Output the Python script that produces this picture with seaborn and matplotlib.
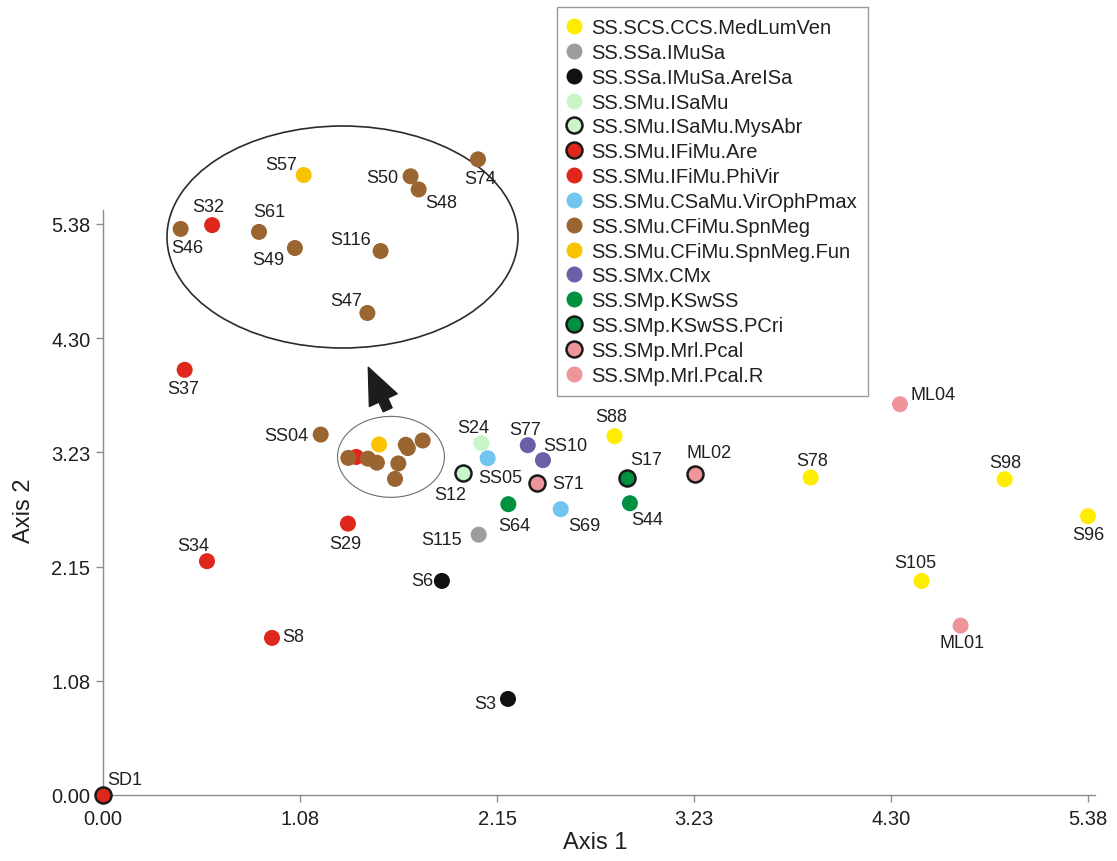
import numpy as np
import pandas as pd
import matplotlib
matplotlib.use("Agg")
import matplotlib.pyplot as plt
from matplotlib.lines import Line2D
from matplotlib.patches import Ellipse, FancyArrowPatch
import seaborn as sns

# ---------------- data ----------------
groups = [
    "SS.SCS.CCS.MedLumVen", "SS.SSa.IMuSa", "SS.SSa.IMuSa.AreISa",
    "SS.SMu.ISaMu", "SS.SMu.ISaMu.MysAbr", "SS.SMu.IFiMu.Are",
    "SS.SMu.IFiMu.PhiVir", "SS.SMu.CSaMu.VirOphPmax", "SS.SMu.CFiMu.SpnMeg",
    "SS.SMu.CFiMu.SpnMeg.Fun", "SS.SMx.CMx", "SS.SMp.KSwSS",
    "SS.SMp.KSwSS.PCri", "SS.SMp.Mrl.Pcal", "SS.SMp.Mrl.Pcal.R",
]
group_colors = [
    "#FFED00", "#9D9D9C", "#111111", "#C9F5C9", "#C9F5C9", "#E0271C",
    "#E0271C", "#71C5EE", "#9B6531", "#F9C300", "#6C5FA7", "#009140",
    "#009140", "#EE959C", "#EE959C",
]
group_outlined = [False, False, False, False, True, True, False, False,
                  False, False, False, False, True, True, False]

samples = ["S88", "S78", "S98", "S96", "S105",
           "S115",
           "S6", "S3",
           "S24",
           "S12",
           "SD1",
           "S8", "S34", "S37", "S29", "S32",
           "SS05", "S69",
           "SS04", "S46", "S61", "S49", "S116", "S47", "S50", "S48", "S74",
           "S57",
           "S77", "SS10",
           "S64", "S44",
           "S17",
           "S71", "ML02",
           "ML04", "ML01"]
axis1 = [2.794, 3.865, 4.925, 5.380, 4.471,
         2.052,
         1.851, 2.212,
         2.066,
         1.965,
         0.000,
         0.923, 0.568, 0.446, 1.338, 1.383,
         2.101, 2.500,
         1.189, 1.340, 1.447, 1.496, 1.613, 1.595, 1.654, 1.665, 1.746,
         1.508,
         2.320, 2.403,
         2.214, 2.878,
         2.863,
         2.372, 3.233,
         4.353, 4.684]
axis2 = [3.381, 2.991, 2.975, 2.627, 2.017,
         2.453,
         2.017, 0.905,
         3.315,
         3.032,
         0.000,
         1.480, 2.203, 4.006, 2.557, 3.185,
         3.173, 2.693,
         3.396, 3.176, 3.169, 3.131, 3.124, 2.978, 3.300, 3.269, 3.340,
         3.303,
         3.296, 3.155,
         2.740, 2.749,
         2.988,
         2.938, 3.028,
         3.682, 1.596]
sample_group = ([0] * 5 + [1] + [2] * 2 + [3] + [4] + [5] + [6] * 5 + [7] * 2
                + [8] * 9 + [9] + [10] * 2 + [11] * 2 + [12] + [13] * 2 + [14] * 2)

# samples inside the magnified cluster
cluster = ["S46", "S32", "S61", "S49", "S57", "S116", "S47", "S50", "S48", "S74"]

# label offsets in pixels (right, up)
main_label_offsets = {
    "SD1": (22, 15), "S8": (21, 1), "S34": (-14, 16), "S37": (-2, -19),
    "S29": (-3, -20), "SS04": (-34, -1), "S6": (-20, 0), "S3": (-23, -5),
    "S115": (-37, -5), "S12": (-13, -21), "S24": (-8, 16), "SS05": (13, -19),
    "S64": (6, -21), "S77": (-3, 16), "SS10": (22, 15), "S71": (31, 0),
    "S69": (24, -16), "S88": (-3, 20), "S17": (19, 18), "S44": (17, -16),
    "ML02": (14, 21), "S78": (2, 17), "ML04": (33, 10), "S98": (1, 17),
    "S96": (0, -18), "S105": (-6, 18), "ML01": (1, -17),
}
inset_label_offsets = {
    "S46": (7, -19), "S32": (-4, 19), "S61": (10, 20), "S49": (-27, -11),
    "S57": (-23, 11), "S116": (-30, 12), "S47": (-21, 12), "S50": (-28, -1),
    "S48": (23, -13), "S74": (2, -19),
}

axis_max = 5.38

df = pd.DataFrame({
    "sample": samples,
    "Axis 1": axis1,
    "Axis 2": axis2,
    "group": [groups[i] for i in sample_group],
})

# ---------------- figure ----------------
W, H = 1117, 862
sns.set_style("ticks")
plt.rcParams["font.family"] = ["Liberation Sans", "DejaVu Sans"]
fig = plt.figure(figsize=(W / 100, H / 100), dpi=100)

# main axes: data (0,0) at px (103,796), (5.38,5.38) at px (1088,225)
L, R, B, T = 103, 1088, 796, 225
ax = fig.add_axes([L / W, 1 - B / H, (R - L) / W, (B - T) / H])
sx = (R - L) / axis_max
sy = (B - T) / axis_max

MS = 133          # marker area (pt^2)
EDGE_W = 1.8
TXT = "#231F20"
LABEL_FS = 13


def draw_points(target, data):
    for gi, g in enumerate(groups):
        sub = data[data["group"] == g]
        if sub.empty:
            continue
        outlined = group_outlined[gi]
        sns.scatterplot(
            data=sub, x="Axis 1", y="Axis 2", ax=target,
            color=group_colors[gi], s=MS,
            edgecolor="#1A1A1A" if outlined else "none",
            linewidth=EDGE_W if outlined else 0,
            clip_on=False, zorder=5, legend=False,
        )


draw_points(ax, df)

for _, row in df.iterrows():
    off = main_label_offsets.get(row["sample"])
    if off is None:
        continue
    ax.annotate(row["sample"], (row["Axis 1"], row["Axis 2"]),
                xytext=off, textcoords="offset pixels",
                ha="center", va="center", fontsize=LABEL_FS, color=TXT,
                zorder=6)

ticks = np.linspace(0, axis_max, 6)
ax.set_xlim(0, axis_max)
ax.set_ylim(0, axis_max)
ax.set_xticks(ticks)
ax.set_yticks(ticks)
ax.set_xticklabels([f"{t:.2f}" for t in ticks])
ax.set_yticklabels([f"{t:.2f}" for t in ticks])
sns.despine(ax=ax)
for sp in ("left", "bottom"):
    ax.spines[sp].set_color("#8C8C8C")
    ax.spines[sp].set_linewidth(1.0)
ax.spines["left"].set_bounds(0, axis_max + 0.13)
ax.spines["bottom"].set_bounds(0, axis_max + 0.04)
ax.tick_params(axis="both", colors="#8C8C8C", labelcolor=TXT,
               labelsize=14.5, length=5, width=1.0, direction="out")
ax.tick_params(axis="x", pad=5)
ax.tick_params(axis="y", pad=4)
ax.set_xlabel("Axis 1", fontsize=17, color=TXT, labelpad=2)
ax.set_ylabel("Axis 2", fontsize=17, color=TXT, labelpad=12)

# ellipse around the cluster
cx, cy = 1.573, 3.186
ax.add_patch(Ellipse((cx, cy), 0.584, 0.763, fill=False,
                     edgecolor="#6E6E6E", linewidth=0.8, zorder=4))

# cursor arrow pointing to the magnified view
ax.add_patch(FancyArrowPatch(
    (1.555, 3.630), (1.449, 4.030),
    arrowstyle="simple,head_length=26,head_width=22,tail_width=7",
    mutation_scale=1, color="#1E1B1C", shrinkA=0, shrinkB=0,
    clip_on=False, zorder=6))

# ---------------- magnified inset ----------------
ZOOM = 4
zx, zy = 1.561, 3.157
il, it, iw, ih = 167, 127, 351, 222
ax_in = fig.add_axes([il / W, 1 - (it + ih) / H, iw / W, ih / H])
ax_in.set_xlim(zx - iw / 2 / (sx * ZOOM), zx + iw / 2 / (sx * ZOOM))
ax_in.set_ylim(zy - ih / 2 / (sy * ZOOM), zy + ih / 2 / (sy * ZOOM))
ax_in.axis("off")
ax_in.add_patch(Ellipse((0.5, 0.5), 1, 1, transform=ax_in.transAxes,
                        fill=False, edgecolor="#2B2B2B", linewidth=1.2,
                        clip_on=False))
sub = df[df["sample"].isin(cluster)]
draw_points(ax_in, sub)
for _, row in sub.iterrows():
    ax_in.annotate(row["sample"], (row["Axis 1"], row["Axis 2"]),
                   xytext=inset_label_offsets[row["sample"]],
                   textcoords="offset pixels", ha="center", va="center",
                   fontsize=LABEL_FS, color=TXT, zorder=6)

# ---------------- legend ----------------
handles = [
    Line2D([], [], ls="", marker="o", markersize=11.5,
           markerfacecolor=c,
           markeredgecolor="#1A1A1A" if o else c,
           markeredgewidth=EDGE_W if o else 0)
    for c, o in zip(group_colors, group_outlined)
]
leg = fig.legend(handles, groups, loc="upper left",
                 bbox_to_anchor=(557 / W, 1 - 8 / H),
                 bbox_transform=fig.transFigure, borderaxespad=0,
                 fontsize=14.5, frameon=True, fancybox=False, framealpha=1,
                 edgecolor="#9A9A9A", handlelength=0.6, handletextpad=0.55,
                 labelspacing=0.29, borderpad=0.55)
leg.get_frame().set_linewidth(1.0)
for t in leg.get_texts():
    t.set_color(TXT)

fig.savefig("out.png", dpi=100)
